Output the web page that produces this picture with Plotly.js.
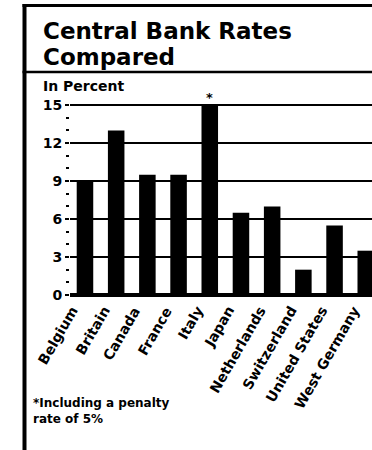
<!DOCTYPE html>
<html>
<head>
<meta charset="utf-8">
<script src="https://cdn.plot.ly/plotly-3.0.1.min.js"></script>
<style>html,body{margin:0;padding:0;background:#fff;}</style>
</head>
<body>
<div id="chart" style="width:372px;height:450px;"></div>
<script>
// Data
const countries = ["Belgium", "Britain", "Canada", "France", "Italy", "Japan", "Netherlands", "Switzerland", "United States", "West Germany"];
const rates = [9, 13, 9.5, 9.5, 15, 6.5, 7, 2, 5.5, 3.5];
const yTicks = [0, 3, 6, 9, 12, 15];
const titleLine1 = "Central Bank Rates";
const titleLine2 = "Compared";
const unitLabel = "In Percent";
const footnote = "*Including a penalty<br>rate of 5%";

const W = 372, H = 450;
const M = {l: 70, r: 0, t: 95, b: 155};
const pw = W - M.l - M.r, ph = H - M.t - M.b;
const px = x => (x - M.l) / pw;
const py = y => (H - M.b - y) / ph;
const FONT = "DejaVu Sans";

const trace = {
  type: "bar",
  x: countries,
  y: rates,
  width: 0.53,
  marker: {color: "#000", line: {width: 0}},
  hoverinfo: "skip"
};

const line = (x0, y0, x1, y1, w) => ({
  type: "line", xref: "paper", yref: "paper",
  x0: px(x0), y0: py(y0), x1: px(x1), y1: py(y1),
  line: {color: "#000", width: w}
});

// rotated category labels, drawn as annotations anchored at each category
const catLabels = countries.map(c => ({
  xref: "x", yref: "y", x: c, y: 0,
  xanchor: "right", yanchor: "top",
  xshift: -1, yshift: -6,
  textangle: -60,
  text: c, showarrow: false,
  font: {family: FONT, size: 14, color: "#000", weight: "bold"}
}));

const layout = {
  width: W, height: H,
  margin: {l: M.l, r: M.r, t: M.t, b: M.b, pad: 0},
  paper_bgcolor: "#fff", plot_bgcolor: "#fff",
  showlegend: false,
  xaxis: {
    type: "category",
    range: [-0.48, 9.2],
    showticklabels: false,
    showgrid: false, zeroline: false, showline: false, ticks: "",
    fixedrange: true
  },
  yaxis: {
    range: [0, 15.8],
    tickvals: yTicks,
    ticktext: yTicks.map(String),
    ticks: "outside", ticklen: 4, tickwidth: 2, tickcolor: "#000",
    tickfont: {family: FONT, size: 14, color: "#000", weight: "bold"},
    showgrid: true, gridcolor: "#000", gridwidth: 2,
    zeroline: true, zerolinecolor: "#000", zerolinewidth: 4,
    showline: false,
    minor: {dtick: 1, ticks: "outside", ticklen: 3, tickwidth: 2, tickcolor: "#000", showgrid: false},
    fixedrange: true
  },
  shapes: [
    line(24.5, 4, 24.5, 450, 4),
    line(22.5, 5.5, 372, 5.5, 3),
    line(22.5, 72, 372, 72, 2.5)
  ],
  annotations: [
    {xref: "paper", yref: "paper", x: px(41), y: py(16), xanchor: "left", yanchor: "top",
     text: titleLine1, showarrow: false, font: {family: FONT, size: 23, color: "#000", weight: "bold"}},
    {xref: "paper", yref: "paper", x: px(41), y: py(42), xanchor: "left", yanchor: "top",
     text: titleLine2, showarrow: false, font: {family: FONT, size: 23, color: "#000", weight: "bold"}},
    {xref: "paper", yref: "paper", x: px(41), y: py(76), xanchor: "left", yanchor: "top",
     text: unitLabel, showarrow: false, font: {family: FONT, size: 14, color: "#000", weight: "bold"}},
    {xref: "x", yref: "y", x: "Italy", y: 15, xanchor: "center", yanchor: "bottom",
     text: "*", showarrow: false, font: {family: FONT, size: 13, color: "#000", weight: "bold"}, yshift: -2},
    {xref: "paper", yref: "paper", x: px(31), y: py(394), xanchor: "left", yanchor: "top", align: "left",
     text: footnote, showarrow: false, font: {family: FONT, size: 12, color: "#000", weight: "bold"}}
  ].concat(catLabels)
};

Plotly.newPlot("chart", [trace], layout, {staticPlot: true, displayModeBar: false});
</script>
</body>
</html>
